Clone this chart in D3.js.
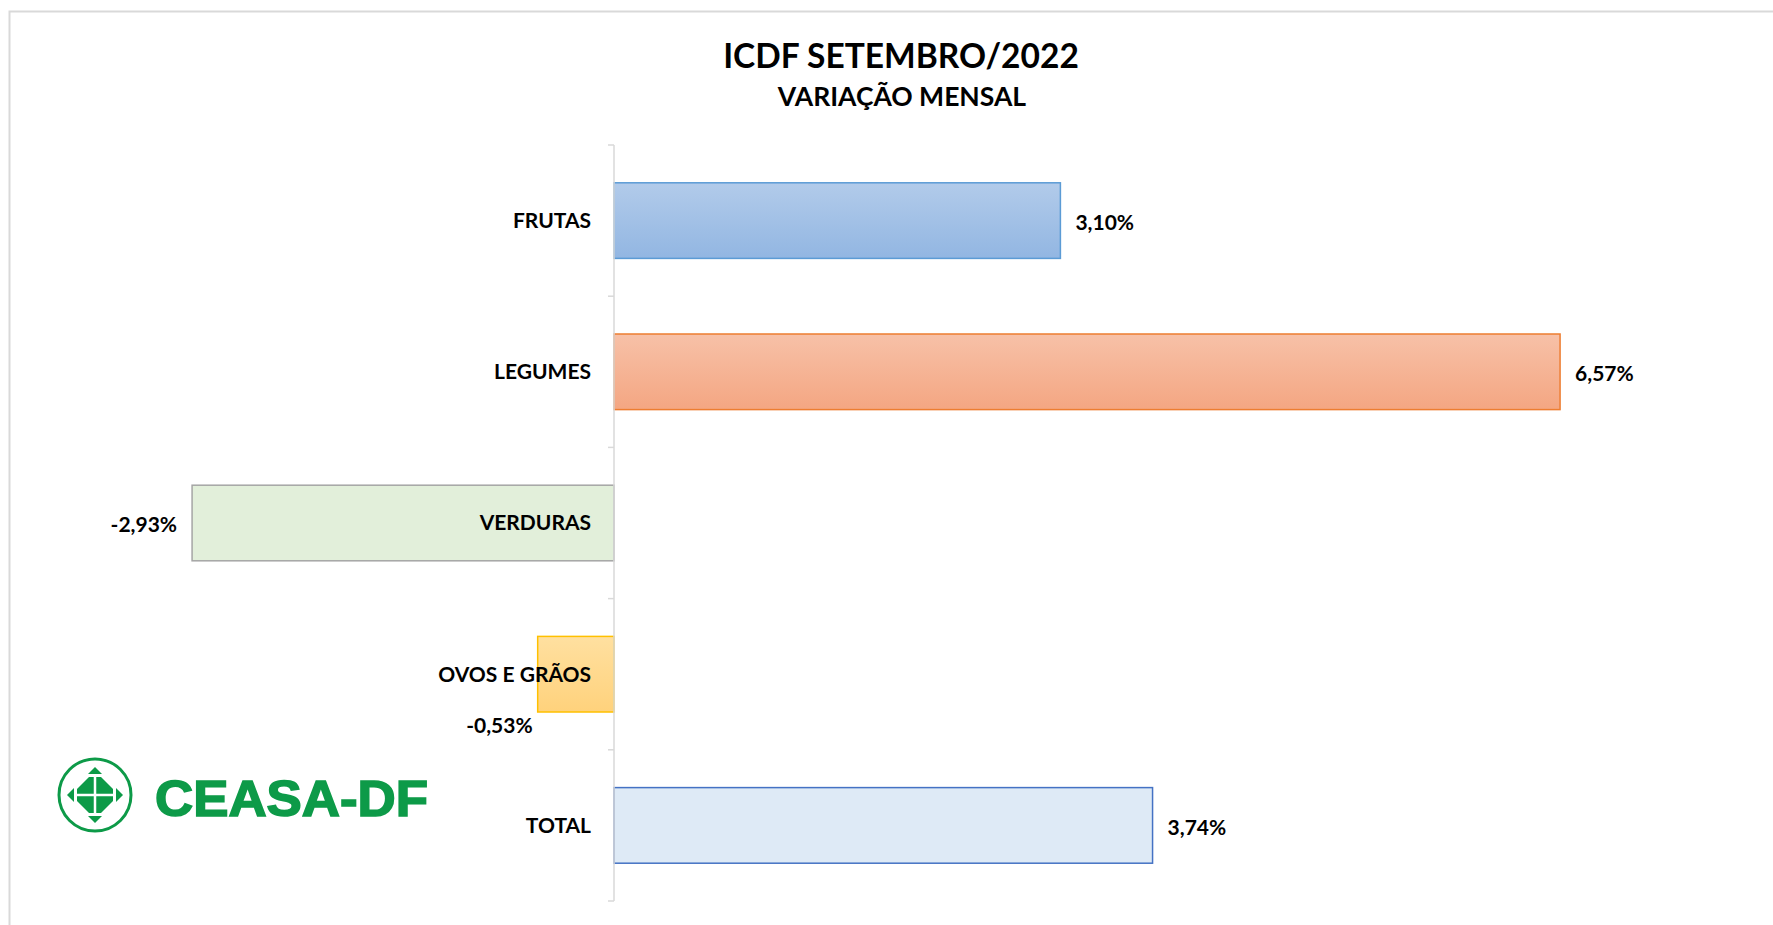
<!DOCTYPE html>
<html>
<head>
<meta charset="utf-8">
<script src="https://cdn.jsdelivr.net/npm/d3@7"></script>
<style>
  body { margin: 0; background: #fff; }
  svg { display: block; font-family: Lato, "Open Sans", sans-serif; }
</style>
</head>
<body>
<svg width="1773" height="925"></svg>
<script>
// data
var categories = ["FRUTAS", "LEGUMES", "VERDURAS", "OVOS E GRÃOS", "TOTAL"];
var values = [3.10, 6.57, -2.93, -0.53, 3.74];
var labels = ["3,10%", "6,57%", "-2,93%", "-0,53%", "3,74%"];

// colours per bar: [top, bottom, stroke]
var fills = [
  ["#b2cbea", "#92b6e2", "#5b9bd5"],
  ["#f7c1a8", "#f4a682", "#ed7d31"],
  ["#e2efda", "#e2efda", "#a5a5a5"],
  ["#ffe0a0", "#ffd27c", "#ffc000"],
  ["#deeaf6", "#deeaf6", "#4472c4"]
];

var svg = d3.select("svg");

// chart frame
svg.append("rect")
    .attr("x", 9.5).attr("y", 11.5)
    .attr("width", 1800).attr("height", 1000)
    .attr("fill", "none")
    .attr("stroke", "#d9d9d9")
    .attr("stroke-width", 2);

// titles
svg.append("text")
    .attr("x", 901).attr("y", 68)
    .attr("text-anchor", "middle")
    .style("font-size", "33.5px").style("font-weight", "bold")
    .text("ICDF SETEMBRO/2022");
svg.append("text")
    .attr("x", 902).attr("y", 106)
    .attr("text-anchor", "middle")
    .style("font-size", "26.5px").style("font-weight", "bold")
    .text("VARIAÇÃO MENSAL");

// scales
var x = d3.scaleLinear().domain([-4, 8]).range([38, 1766]);
var y = d3.scaleBand().domain(categories).range([145, 901])
    .paddingInner(0.5).paddingOuter(0.25);

var defs = svg.append("defs");
fills.forEach(function(f, i) {
  var g = defs.append("linearGradient")
      .attr("id", "grad" + i)
      .attr("x1", 0).attr("y1", 0).attr("x2", 0).attr("y2", 1);
  g.append("stop").attr("offset", "0%").attr("stop-color", f[0]);
  g.append("stop").attr("offset", "100%").attr("stop-color", f[1]);
});

// bars
svg.append("g")
  .selectAll("rect")
  .data(values)
  .join("rect")
    .attr("x", function(d) { return x(Math.min(0, d)); })
    .attr("y", function(d, i) { return y(categories[i]); })
    .attr("width", function(d) { return Math.abs(x(d) - x(0)); })
    .attr("height", y.bandwidth())
    .attr("fill", function(d, i) { return "url(#grad" + i + ")"; })
    .attr("stroke", function(d, i) { return fills[i][2]; })
    .attr("stroke-width", 1.5);

// axis line with ticks between categories
var axis = svg.append("g").attr("stroke", "#d9d9d9").attr("stroke-width", 1.5);
axis.append("line")
    .attr("x1", x(0)).attr("x2", x(0))
    .attr("y1", y.range()[0]).attr("y2", y.range()[1]);
d3.range(categories.length + 1).forEach(function(i) {
  var ty = y.range()[0] + i * y.step();
  axis.append("line")
      .attr("x1", x(0) - 6).attr("x2", x(0))
      .attr("y1", ty).attr("y2", ty);
});

// category labels
svg.append("g")
  .selectAll("text")
  .data(categories)
  .join("text")
    .attr("x", x(0) - 23)
    .attr("y", function(d) { return y(d) + y.bandwidth() / 2; })
    .attr("dy", "0.35em")
    .attr("text-anchor", "end")
    .style("font-size", "21px").style("font-weight", "bold")
    .text(function(d) { return d; });

// value labels
svg.append("g")
  .selectAll("text")
  .data(values)
  .join("text")
    .attr("x", function(d) {
      var w = Math.abs(x(d) - x(0));
      if (w < 100) return x(d) - 5;
      return d >= 0 ? x(d) + 15 : x(d) - 15;
    })
    .attr("y", function(d, i) {
      var w = Math.abs(x(d) - x(0));
      var top = y(categories[i]);
      return w < 100 ? top + y.bandwidth() + 14 : top + y.bandwidth() / 2 + 2;
    })
    .attr("dy", "0.35em")
    .attr("text-anchor", function(d) { return d >= 0 ? "start" : "end"; })
    .style("font-size", "21px").style("font-weight", "bold")
    .text(function(d, i) { return labels[i]; });

// CEASA-DF logo
var green = "#0d9a48";
var logo = svg.append("g").attr("transform", "translate(95,795)");
logo.append("circle").attr("r", 36)
    .attr("fill", "none").attr("stroke", green).attr("stroke-width", 3);
// arrows
[0, 90, 180, 270].forEach(function(a) {
  logo.append("path")
      .attr("d", "M0,-28 L7,-21 L-7,-21 Z")
      .attr("fill", green)
      .attr("transform", "rotate(" + a + ")");
});
// centre emblem
logo.append("path")
    .attr("d", "M-6,-18 L6,-18 L10,-14 L14,-10 L18,-6 L18,6 L14,10 L10,14 L6,18 L-6,18 L-10,14 L-14,10 L-18,6 L-18,-6 L-14,-10 L-10,-14 Z")
    .attr("fill", green);
logo.append("path")
    .attr("d", "M-18,0 H18 M0,-18 V18")
    .attr("stroke", "#fff").attr("stroke-width", 2.5);
svg.append("text")
    .attr("x", 155).attr("y", 816)
    .attr("textLength", 273)
    .attr("lengthAdjust", "spacingAndGlyphs")
    .style("font-family", "'Liberation Sans', Arial, sans-serif")
    .style("font-size", "50px").style("font-weight", "bold")
    .attr("fill", green)
    .attr("stroke", green).attr("stroke-width", 1.6)
    .text("CEASA-DF");
</script>
</body>
</html>
